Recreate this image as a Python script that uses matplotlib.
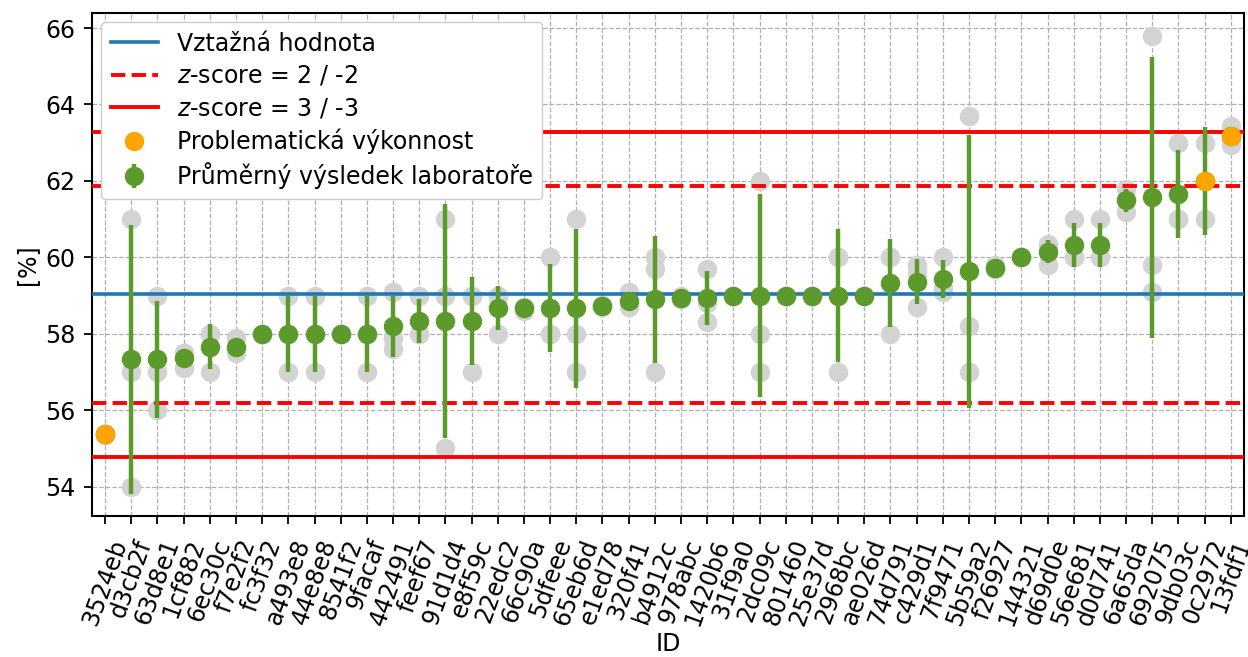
import numpy as np
import matplotlib
matplotlib.use("Agg")
import matplotlib.pyplot as plt

# Lab IDs in plotted order
lab_ids = ["3524eb", "d3cb2f", "63d8e1", "1cf882", "6ec30c", "f7e2f2", "fc3f32",
           "a493e8", "44e8e8", "8541f2", "9facaf", "442491", "feef67", "91d1d4",
           "e8f59c", "22edc2", "66c90a", "5dfeee", "65eb6d", "e1ed78", "320f41",
           "b4912c", "978abc", "1420b6", "31f9a0", "2dc09c", "801460", "25e37d",
           "2968bc", "ae026d", "74d791", "c429d1", "7f9471", "5b59a2", "f26927",
           "144321", "d69d0e", "56e681", "d0d741", "6a65da", "692075", "9db03c",
           "0c2972", "13fdf1"]

# Individual results of each lab (replicates)
replicates = [
    [55.38, 55.36, 55.37],
    [61.0, 57.0, 54.0],
    [59.0, 57.0, 56.0],
    [57.5, 57.5, 57.1],
    [58.0, 58.0, 57.0],
    [57.9, 57.5, 57.6],
    [58.0, 58.0, 58.0],
    [59.0, 58.0, 57.0],
    [59.0, 58.0, 57.0],
    [58.0, 58.0, 58.0],
    [59.0, 58.0, 57.0],
    [59.1, 57.9, 57.6],
    [59.0, 58.0, 58.0],
    [61.0, 59.0, 55.0],
    [59.0, 59.0, 57.0],
    [59.0, 59.0, 58.0],
    [58.7, 58.7, 58.6],
    [60.0, 58.0, 58.0],
    [61.0, 58.0, 57.0],
    [58.75, 58.7, 58.75],
    [59.1, 58.8, 58.7],
    [60.0, 59.7, 57.0],
    [59.0, 58.9, 58.9],
    [59.7, 58.8, 58.3],
    [59.0, 59.0, 59.0],
    [62.0, 58.0, 57.0],
    [59.0, 59.0, 59.0],
    [59.0, 59.0, 59.0],
    [60.0, 60.0, 57.0],
    [59.0, 59.0, 59.0],
    [60.0, 60.0, 58.0],
    [59.8, 59.6, 58.7],
    [60.0, 59.2, 59.1],
    [63.7, 58.2, 57.0],
    [59.8, 59.7, 59.7],
    [60.0, 60.0, 60.0],
    [60.35, 60.3, 59.8],
    [61.0, 60.0, 60.0],
    [61.0, 60.0, 60.0],
    [61.8, 61.5, 61.2],
    [65.8, 59.8, 59.1],
    [63.0, 61.0, 61.0],
    [63.0, 61.0],
    [63.45, 63.1, 62.95],
]

# Assigned value and standard deviation for proficiency assessment
assigned_value = 59.03
sigma_pt = 1.415

means = np.array([np.mean(r) for r in replicates])
stds = np.array([np.std(r, ddof=1) for r in replicates])
z_scores = (means - assigned_value) / sigma_pt
problematic = (np.abs(z_scores) >= 2) & (np.abs(z_scores) < 3)

green = "#5b9a2b"
fs = 17

fig = plt.figure(figsize=(12.48, 6.57), dpi=100)
ax = fig.add_axes([0.0737, 0.214, 0.923, 0.7665])

x = np.arange(len(lab_ids))

# replicates in light gray
for i, r in enumerate(replicates):
    ax.plot([i] * len(r), r, "o", color="lightgray", markersize=13, zorder=2)

ax.axhline(assigned_value, color="#1f77b4", lw=2.6, zorder=3, label="Vztažná hodnota")
ax.axhline(assigned_value + 2 * sigma_pt, color="red", ls="--", lw=2.8, zorder=3,
           label="$z$-score = 2 / -2")
ax.axhline(assigned_value - 2 * sigma_pt, color="red", ls="--", lw=2.8, zorder=3)
ax.axhline(assigned_value + 3 * sigma_pt, color="red", lw=2.8, zorder=3,
           label="$z$-score = 3 / -3")
ax.axhline(assigned_value - 3 * sigma_pt, color="red", lw=2.8, zorder=3)

ax.errorbar(x, means, yerr=stds, fmt="o", color=green, ecolor=green,
            markersize=13, elinewidth=3.2, capsize=0, zorder=4,
            label="Průměrný výsledek laboratoře")
ax.plot(x[problematic], means[problematic], "o", color="orange", markersize=13,
        zorder=5, label="Problematická výkonnost")

ax.set_xticks(x)
ax.set_xticklabels(lab_ids, rotation=70)
ax.tick_params(axis="both", labelsize=fs, length=6, width=1.3)
ax.tick_params(axis="x", pad=8)
ax.tick_params(axis="y", pad=6)
ax.set_xlim(-0.5, len(lab_ids) - 0.5)
ax.set_yticks([54, 56, 58, 60, 62, 64, 66])
ax.set_xlabel("ID", fontsize=fs, labelpad=2)
ax.set_ylabel("[%]", fontsize=fs)
ax.grid(True, ls="--", color="#b0b0b0", lw=0.9)
ax.set_axisbelow(True)
for s in ax.spines.values():
    s.set_linewidth(1.5)

handles, labels = ax.get_legend_handles_labels()
order = ["Vztažná hodnota", "$z$-score = 2 / -2", "$z$-score = 3 / -3",
         "Problematická výkonnost", "Průměrný výsledek laboratoře"]
hl = dict(zip(labels, handles))
ax.legend([hl[k] for k in order], order, loc="upper left", fontsize=fs,
          framealpha=1, borderaxespad=0.4, labelspacing=0.35)

fig.savefig("out.png", dpi=100)
